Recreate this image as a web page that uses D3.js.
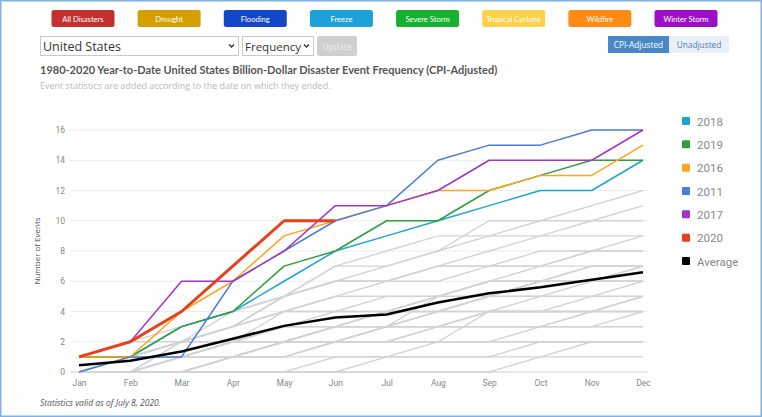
<!DOCTYPE html>
<html><head><meta charset="utf-8">
<script src="https://cdn.jsdelivr.net/npm/d3@7"></script>
<style>
html,body{margin:0;padding:0;background:#fff;}
svg{display:block;font-family:"Open Sans","Noto Sans",sans-serif;}
</style></head>
<body><svg id="c" width="762" height="417"></svg>
<script>
const months = ["Jan","Feb","Mar","Apr","May","Jun","Jul","Aug","Sep","Oct","Nov","Dec"];
const yTicks = [0,2,4,6,8,10,12,14,16];
const buttons = ["All Disasters","Drought","Flooding","Freeze","Severe Storm","Tropical Cyclone","Wildfire","Winter Storm"];
const buttonColors = ["#c4302e","#d3a000","#1446c8","#1ea0d8","#16b12f","#ffd04a","#ff8a14","#9b0fc8"];
const legendYears = ["2018","2019","2016","2011","2017","2020","Average"];
const legendColors = ["#1ba6cf","#2e9e3e","#ffa41e","#4d7bd6","#a534c4","#e8401c","#000000"];

const y2018 = [1,1,3,4,6,8,9,10,11,12,12,14];
const y2019 = [1,1,3,4,7,8,10,10,12,13,14,14];
const y2016 = [1,1,4,6,9,10,11,12,12,13,13,15];
const y2011 = [0,1,1,6,8,10,11,14,15,15,16,16];
const y2017 = [1,2,6,6,8,11,11,12,14,14,14,16];
const y2020 = [1,2,4,7,10,10];
const avg   = [0.45,0.75,1.35,2.2,3.05,3.6,3.8,4.6,5.2,5.6,6.1,6.6];

const gray1980 = [0,0,0,1,1,2,2,3,3,3,3,3];
const gray1981 = [0,1,1,1,1,1,1,1,1,1,2,2];
const gray1982 = [1,1,1,2,2,3,3,3,3,3,3,3];
const gray1983 = [0,0,1,2,2,3,3,4,4,4,4,5];
const gray1984 = [0,0,1,1,2,2,2,2,2,2,2,2];
const gray1985 = [0,1,1,1,2,2,2,3,4,5,5,6];
const gray1986 = [0,0,0,0,0,0,1,1,1,2,2,2];
const gray1987 = [0,0,0,0,0,0,0,0,0,1,1,1];
const gray1988 = [0,0,0,0,0,1,1,2,2,2,2,2];
const gray1989 = [0,1,1,1,2,2,2,2,4,4,4,5];
const gray1990 = [0,1,1,2,3,3,3,3,3,3,4,4];
const gray1991 = [0,0,0,1,1,2,2,2,2,3,3,4];
const gray1992 = [0,0,0,1,2,3,3,4,5,5,6,7];
const gray1993 = [0,0,1,1,2,2,3,3,4,4,4,5];
const gray1994 = [1,2,2,2,3,3,4,4,4,4,5,5];
const gray1995 = [0,1,1,2,3,3,4,4,5,6,6,6];
const gray1996 = [1,1,1,2,2,3,3,3,4,4,4,4];
const gray1997 = [1,1,2,3,4,5,5,5,6,6,6,7];
const gray1998 = [0,1,2,3,5,6,6,7,8,9,9,9];
const gray1999 = [1,1,2,2,3,3,4,5,6,6,6,6];
const gray2000 = [0,0,1,1,2,2,3,3,3,3,4,4];
const gray2001 = [0,0,0,1,2,2,3,3,3,3,3,3];
const gray2002 = [0,0,0,1,2,3,4,4,5,6,6,6];
const gray2003 = [0,1,1,2,4,4,4,5,5,6,7,7];
const gray2004 = [0,0,0,1,2,3,3,5,6,7,7,7];
const gray2005 = [0,1,1,1,1,2,3,4,5,6,6,6];
const gray2006 = [0,0,1,2,3,4,5,5,6,6,7,7];
const gray2007 = [0,1,2,3,4,4,4,5,5,5,5,5];
const gray2008 = [1,2,3,4,5,7,7,8,10,10,11,12];
const gray2009 = [0,1,3,4,5,6,6,7,7,8,8,8];
const gray2010 = [1,1,2,3,4,5,5,5,5,5,5,5];
const gray2012 = [0,0,2,4,5,6,7,8,9,9,10,11];
const gray2013 = [0,0,2,3,5,6,6,7,7,7,8,9];
const gray2014 = [0,1,2,3,4,5,6,6,7,7,8,8];
const gray2015 = [0,1,2,3,5,7,8,9,9,10,10,10];
const grays = [gray1980,gray1981,gray1982,gray1983,gray1984,gray1985,gray1986,gray1987,gray1988,gray1989,
  gray1990,gray1991,gray1992,gray1993,gray1994,gray1995,gray1996,gray1997,gray1998,gray1999,
  gray2000,gray2001,gray2002,gray2003,gray2004,gray2005,gray2006,gray2007,gray2008,gray2009,
  gray2010,gray2012,gray2013,gray2014,gray2015];

const svg = d3.select("#c");
svg.append("rect").attr("x",0.75).attr("y",0.75).attr("width",760.5).attr("height",415.5)
  .attr("fill","#fff").attr("stroke","#7fb2e2").attr("stroke-width",1.5);

const bx = d3.scalePoint().domain(buttons).range([83,686]);
const bg = svg.append("g").selectAll("g").data(buttons).join("g")
  .attr("transform", d => `translate(${bx(d)-31.5},10)`);
bg.append("rect").attr("width",63).attr("height",17).attr("rx",2.5)
  .attr("fill",(d,i)=>buttonColors[i]);
bg.append("text").attr("x",31.5).attr("y",11.8).attr("text-anchor","middle")
  .attr("font-size",7.6).attr("fill","#fff").attr("font-family","Lato, 'Open Sans', sans-serif").text(d=>d);

function select(x,w,label,fs){
  svg.append("rect").attr("x",x+0.5).attr("y",36.5).attr("width",w).attr("height",19)
    .attr("fill","#fff").attr("stroke","#c8c8c8");
  svg.append("text").attr("x",x+3).attr("y",50.5).attr("font-size",fs).attr("fill","#333").text(label);
  svg.append("path").attr("d",`M${x+w-9},44.5 l2.5,2.5 l2.5,-2.5`).attr("fill","none").attr("stroke","#333").attr("stroke-width",1.4);
}
select(40,198,"United States",12.5);
select(242,71,"Frequency",11.5);
svg.append("rect").attr("x",317).attr("y",36).attr("width",40).attr("height",20).attr("rx",2).attr("fill","#cfcfcf");
svg.append("text").attr("x",337).attr("y",49.5).attr("text-anchor","middle").attr("font-size",8.5).attr("fill","#eee").text("Update");

svg.append("rect").attr("x",608).attr("y",36).attr("width",61).attr("height",17).attr("fill","#4a87c6");
svg.append("rect").attr("x",669).attr("y",36).attr("width",60).attr("height",17).attr("fill","#eaf0f7");
svg.append("text").attr("x",638.5).attr("y",48).attr("text-anchor","middle").attr("font-size",8.3).attr("fill","#fff").text("CPI-Adjusted");
svg.append("text").attr("x",699).attr("y",48).attr("text-anchor","middle").attr("font-size",8.3).attr("fill","#4a7ab5").text("Unadjusted");

svg.append("text").attr("x",40).attr("y",74).attr("font-size",11).attr("font-weight","bold").attr("fill","#555")
  .attr("font-family","Lato, 'Open Sans', sans-serif")
  .text("1980-2020 Year-to-Date United States Billion-Dollar Disaster Event Frequency (CPI-Adjusted)");
svg.append("text").attr("x",40).attr("y",89).attr("font-size",9).attr("fill","#bbb")
  .text("Event statistics are added according to the date on which they ended.");

const x = d3.scalePoint().domain(months).range([79,643]);
const y = d3.scaleLinear().domain([0,16]).range([372,130]);

svg.append("g").selectAll("line").data(yTicks).join("line")
  .attr("x1",70).attr("x2",648).attr("y1",d=>y(d)).attr("y2",d=>y(d))
  .attr("stroke",d=>d===0?"#d0d0d0":"#ececec").attr("stroke-width",1);

const yAxis = svg.append("g").attr("transform","translate(70,0)")
  .call(d3.axisLeft(y).tickValues(yTicks).tickSize(0).tickPadding(5));
yAxis.select(".domain").remove();
yAxis.selectAll("text").attr("font-size",8.5).attr("fill","#888").attr("font-family","Roboto, sans-serif");

const xAxis = svg.append("g").attr("transform","translate(0,372)")
  .call(d3.axisBottom(x).tickSize(0).tickPadding(8));
xAxis.select(".domain").remove();
xAxis.selectAll("text").attr("font-size",8.5).attr("fill","#888").attr("font-family","Roboto, sans-serif");

svg.append("text").attr("transform","translate(40,251) rotate(-90)").attr("text-anchor","middle")
  .attr("font-size",8).attr("fill","#555").text("Number of Events");

const line = d3.line().x((d,i)=>x(months[i])).y(d=>y(d));

svg.append("g").selectAll("path").data(grays).join("path")
  .attr("d",line).attr("fill","none").attr("stroke","#d3d3d3").attr("stroke-width",1.4);

const colored = [
  {v:y2018,c:legendColors[0],w:1.5},
  {v:y2019,c:legendColors[1],w:1.5},
  {v:y2016,c:legendColors[2],w:1.5},
  {v:y2011,c:legendColors[3],w:1.5},
  {v:y2017,c:legendColors[4],w:1.5},
  {v:avg,c:"#000",w:2.5},
  {v:y2020,c:legendColors[5],w:3}
];
svg.append("g").selectAll("path").data(colored).join("path")
  .attr("d",d=>line(d.v)).attr("fill","none").attr("stroke",d=>d.c).attr("stroke-width",d=>d.w)
  .attr("stroke-linejoin","round");

const ly = d3.scalePoint().domain(legendYears).range([122,262]);
const lg = svg.append("g").selectAll("g").data(legendYears).join("g")
  .attr("transform",d=>`translate(682,${ly(d)})`);
lg.append("rect").attr("x",0).attr("y",-5).attr("width",8).attr("height",8).attr("rx",1).attr("fill",(d,i)=>legendColors[i]);
lg.append("text").attr("x",15).attr("y",3.5).attr("font-size",11.5).attr("fill","#888")
  .attr("font-family","Roboto, sans-serif").text(d=>d);

svg.append("text").attr("x",40).attr("y",406).attr("font-size",8.5).attr("font-style","italic").attr("fill","#555")
  .text("Statistics valid as of July 8, 2020.");
</script></body></html>
